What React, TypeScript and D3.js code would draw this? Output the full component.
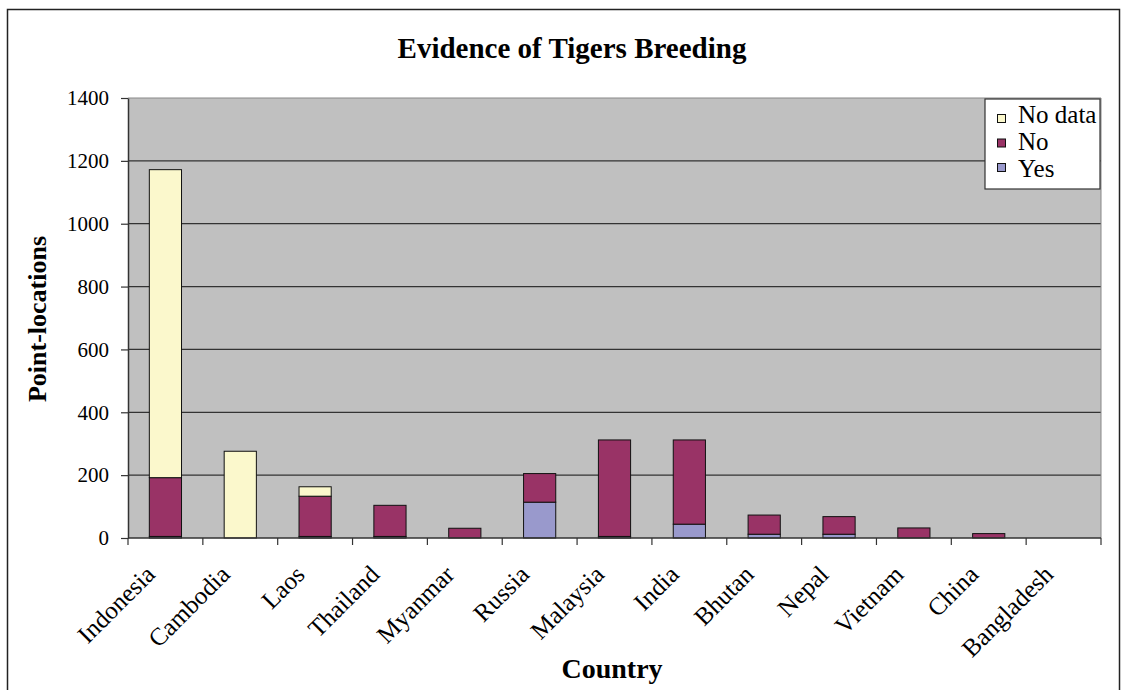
import React, { useEffect, useRef } from 'react';
import * as d3 from 'd3';

const countries = ['Indonesia', 'Cambodia', 'Laos', 'Thailand', 'Myanmar', 'Russia', 'Malaysia', 'India', 'Bhutan', 'Nepal', 'Vietnam', 'China', 'Bangladesh'];
const yesValues = [5, 0, 5, 5, 0, 114, 5, 44, 12, 12, 0, 0, 0];
const noValues = [187, 0, 128, 99, 31, 91, 307, 268, 61, 56, 32, 14, 0];
const noDataValues = [980, 276, 30, 0, 0, 0, 0, 0, 0, 0, 0, 0, 0];
const seriesNames = ['Yes', 'No', 'No data'];
const seriesColors = ['#9999CC', '#993366', '#FBF8CC'];
const yTicks = [0, 200, 400, 600, 800, 1000, 1200, 1400];

const FONT = '"Liberation Serif", "Times New Roman", serif';

export default function App() {
  const ref = useRef<SVGSVGElement>(null);

  useEffect(() => {
    const svg = d3.select(ref.current);
    svg.selectAll('*').remove();

    const margin = { top: 98, right: 22, bottom: 152, left: 128 };
    const totalWidth = 1123;
    const totalHeight = 690;
    const width = totalWidth - margin.left - margin.right;
    const height = totalHeight - margin.top - margin.bottom;

    // outer chart border
    svg.append('rect')
      .attr('x', 7.5).attr('y', 9.5)
      .attr('width', 1112).attr('height', 700)
      .style('fill', 'white').style('stroke', '#222').style('stroke-width', 1.5);

    const g = svg.append('g').attr('transform', `translate(${margin.left},${margin.top})`);

    const xScale = d3.scaleBand().domain(countries).range([0, width]).paddingInner(0.57).paddingOuter(0.285);
    const xOuter = d3.scaleBand().domain(countries).range([0, width]);
    const yScale = d3.scaleLinear().domain([0, 1400]).range([height, 0]);

    g.append('rect')
      .attr('width', width).attr('height', height)
      .style('fill', '#C0C0C0');

    // gridlines
    g.selectAll('.grid')
      .data(yTicks.slice(1, -1))
      .enter().append('line')
      .attr('x1', 0).attr('x2', width)
      .attr('y1', d => yScale(d)).attr('y2', d => yScale(d))
      .style('stroke', '#333').style('stroke-width', 1.2);

    // top/right plot border (light)
    g.append('line').attr('x1', 0).attr('x2', width).attr('y1', 0).attr('y2', 0)
      .style('stroke', '#888').style('stroke-width', 1);
    g.append('line').attr('x1', width).attr('x2', width).attr('y1', 0).attr('y2', height)
      .style('stroke', '#888').style('stroke-width', 1);

    const rows = countries.map((c, i) => ({ country: c, Yes: yesValues[i], No: noValues[i], 'No data': noDataValues[i] }));
    const stacked = d3.stack<any>().keys(seriesNames)(rows);

    stacked.forEach((layer, li) => {
      g.selectAll(`.bar-${li}`)
        .data(layer.filter(d => d[1] - d[0] > 0))
        .enter().append('rect')
        .attr('x', d => xScale(d.data.country)!)
        .attr('y', d => yScale(d[1]))
        .attr('width', xScale.bandwidth())
        .attr('height', d => yScale(d[0]) - yScale(d[1]))
        .style('fill', seriesColors[li])
        .style('stroke', '#111')
        .style('stroke-width', 1);
    });

    // y axis
    const yAxis = g.append('g')
      .attr('font-family', FONT)
      .call(d3.axisLeft(yScale).tickValues(yTicks).tickFormat(d3.format('d')).tickSize(7).tickSizeOuter(0).tickPadding(12));
    yAxis.attr('font-family', FONT);
    yAxis.select('.domain').style('stroke', '#333').style('stroke-width', 1.5);
    yAxis.selectAll('line').style('stroke', '#333').style('stroke-width', 1.2);
    yAxis.selectAll('text').style('font-family', FONT).style('font-size', '21px').style('fill', '#000');

    // x axis
    const xAxisG = g.append('g').attr('transform', `translate(0,${height})`);
    xAxisG.append('line').attr('x1', 0).attr('x2', width)
      .style('stroke', '#333').style('stroke-width', 1.5);
    xAxisG.selectAll('.xtick')
      .data(countries.map(c => xOuter(c)!).concat([width]))
      .enter().append('line')
      .attr('x1', d => d).attr('x2', d => d)
      .attr('y1', 0).attr('y2', 7)
      .style('stroke', '#333').style('stroke-width', 1.2);
    xAxisG.selectAll('.xlabel')
      .data(countries)
      .enter().append('text')
      .attr('transform', d => `translate(${xOuter(d)! + xOuter.bandwidth() / 2 - 9},${38}) rotate(-45)`)
      .attr('text-anchor', 'end')
      .text(d => d)
      .style('font-family', FONT).style('font-size', '25px').style('fill', '#000');

    // title
    svg.append('text')
      .attr('x', 572).attr('y', 58)
      .attr('text-anchor', 'middle')
      .text('Evidence of Tigers Breeding')
      .style('font-family', FONT).style('font-size', '29px').style('font-weight', 'bold');

    // axis titles
    svg.append('text')
      .attr('transform', `translate(46,${319}) rotate(-90)`)
      .attr('text-anchor', 'middle')
      .text('Point-locations')
      .style('font-family', FONT).style('font-size', '26px').style('font-weight', 'bold');

    svg.append('text')
      .attr('x', 612).attr('y', 678)
      .attr('text-anchor', 'middle')
      .text('Country')
      .style('font-family', FONT).style('font-size', '28px').style('font-weight', 'bold');

    // legend
    const legend = svg.append('g').attr('transform', 'translate(985,99)');
    legend.append('rect')
      .attr('width', 115).attr('height', 90)
      .style('fill', 'white').style('stroke', '#333').style('stroke-width', 1.2);
    const legendOrder = [2, 1, 0];
    legendOrder.forEach((si, i) => {
      legend.append('rect')
        .attr('x', 12.5).attr('y', 15.5 + i * 24.5).attr('width', 8).attr('height', 8)
        .style('fill', seriesColors[si]).style('stroke', '#111').style('stroke-width', 1);
      legend.append('text')
        .attr('x', 33).attr('y', 24 + i * 27)
        .text(seriesNames[si])
        .style('font-family', FONT).style('font-size', '25px');
    });
  }, []);

  return (
    <svg ref={ref} width={1123} height={690} style={{ position: 'absolute', left: 0, top: 0 }} />
  );
}
